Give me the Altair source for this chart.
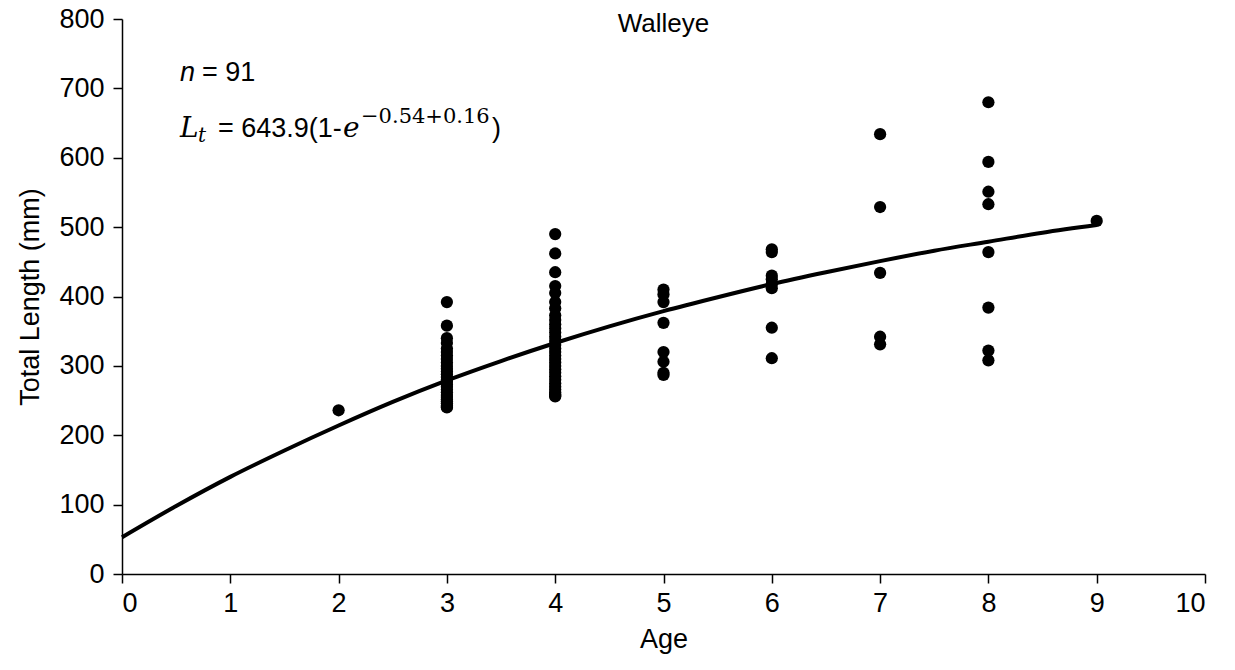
import altair as alt
import pandas as pd

# ---- data ----
age2 = [236]
age3 = [392, 358, 340, 333, 325, 320, 315, 310, 305, 300, 296, 292, 288, 284, 280,
        277, 273, 270, 266, 262, 258, 255, 252, 249, 246, 243, 241, 240]
age4 = [490, 462, 435, 415, 405, 392, 383, 373, 366, 360, 354, 348, 342, 336, 330,
        325, 320, 315, 310, 305, 300, 295, 290, 285, 280, 275, 270, 266, 262, 259,
        257, 256]
age5 = [410, 403, 392, 362, 320, 306, 290, 287]
age6 = [468, 464, 430, 425, 418, 412, 355, 311]
age7 = [634, 529, 434, 342, 331]
age8 = [680, 594, 551, 533, 464, 384, 322, 308]
age9 = [509]

curve_age = [0, 0.5, 1, 1.5, 2, 2.5, 3, 3.5, 4, 4.5, 5, 5.5, 6, 6.5, 7, 7.5, 8, 8.5, 9]
curve_len = [53, 98, 140, 178, 214, 248, 279, 307, 333, 357, 379, 399, 418, 435, 451,
             466, 479, 492, 503]

x_ticks = list(range(0, 11))
y_ticks = list(range(0, 801, 100))

title_text = "Walleye"
n_label = ["n", "= 91"]
eq_parts = ["L", "t", "= 643.9(1-", "e", "\u22120.54+0.16", ")"]

# ---- build tables ----
groups = [(2, age2), (3, age3), (4, age4), (5, age5), (6, age6), (7, age7), (8, age8), (9, age9)]
pts = pd.DataFrame([{"Age": a, "Length": v} for a, vals in groups for v in vals])
curve = pd.DataFrame({"Age": curve_age, "Length": curve_len})

W, H = 1083, 555
FONT = "Liberation Sans"
FS = 27

xenc = alt.X("Age:Q", scale=alt.Scale(domain=[0, 10], nice=False),
             axis=alt.Axis(values=x_ticks, title="Age", format="d"))
yenc = alt.Y("Length:Q", scale=alt.Scale(domain=[0, 800], nice=False),
             axis=alt.Axis(values=y_ticks, title="Total Length (mm)", format="d"))

points = alt.Chart(pts).mark_circle(size=150, color="black", opacity=1).encode(x=xenc, y=yenc)
line = alt.Chart(curve).mark_line(color="black", strokeWidth=4, interpolate="monotone").encode(
    x="Age:Q", y="Length:Q")

one = pd.DataFrame({"k": [0]})

def txt(s, x, y, size=FS, font=FONT, style="normal", align="left", baseline="alphabetic"):
    return alt.Chart(one).mark_text(
        text=s, x=x, y=y, fontSize=size, font=font, fontStyle=style,
        align=align, baseline=baseline, color="black")

title = txt(title_text, W / 2, 5, size=26, align="center", baseline="middle")

ax0 = 58
nb = 62
n1 = txt(n_label[0], ax0, nb, style="italic")
n2 = txt(n_label[1], ax0 + 22, nb)

eb = 118
e1 = txt(eq_parts[0], ax0, eb, size=28, font="DejaVu Serif", style="italic")
e2 = txt(eq_parts[1], ax0 + 18, eb + 5, size=20, font="DejaVu Serif", style="italic")
e3 = txt(eq_parts[2], ax0 + 38, eb)
e4 = txt(eq_parts[3], ax0 + 163, eb, size=28, font="DejaVu Serif", style="italic")
e5 = txt(eq_parts[4], ax0 + 181, eb - 14, size=21, font="DejaVu Serif")
e6 = txt(eq_parts[5], ax0 + 312, eb)

chart = alt.layer(line, points, title, n1, n2, e1, e2, e3, e4, e5, e6).properties(
    width=W, height=H,
    autosize=alt.AutoSizeParams(type="none"),
    padding={"left": 122, "top": 19, "right": 30, "bottom": 96},
).configure_view(stroke=None).configure_axis(
    grid=False, domainColor="black", domainWidth=1.5, tickColor="black", tickWidth=1.5,
    tickSize=9, labelFont=FONT, labelFontSize=FS, labelColor="black",
    titleFont=FONT, titleFontSize=FS, titleFontWeight="normal", titleColor="black",
).configure_axisX(labelPadding=7, titlePadding=10).configure_axisY(labelPadding=9, titlePadding=14)

chart.save("out.html", embed_options={"renderer": "svg", "actions": False})
